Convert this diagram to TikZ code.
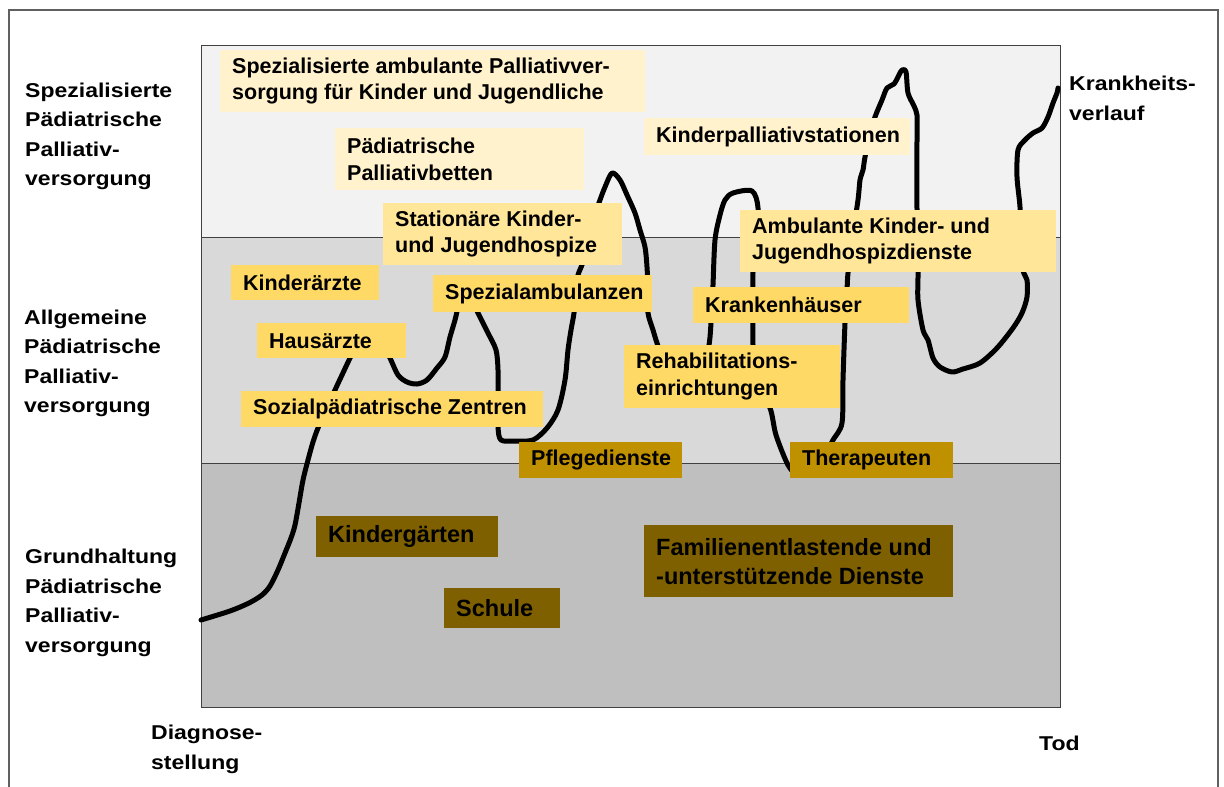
\documentclass[tikz,border=0pt]{standalone}
\usepackage{fontspec}
\setmainfont{Liberation Sans}
\newfontfamily\lblfont[FakeStretch=1.15]{Liberation Sans}
\definecolor{bandA}{HTML}{F2F2F2}
\definecolor{bandB}{HTML}{D9D9D9}
\definecolor{bandC}{HTML}{BFBFBF}
\definecolor{boxpale}{HTML}{FFF2CC}
\definecolor{boxmid}{HTML}{FFE699}
\definecolor{boxgold}{HTML}{FFD966}
\definecolor{boxdark}{HTML}{BF9000}
\definecolor{boxbrown}{HTML}{7F6000}
\definecolor{framegray}{HTML}{606060}
\definecolor{axisgray}{HTML}{404040}
\tikzset{
  boxshape/.style={rectangle, draw=none, inner sep=0pt},
  boxtxt/.style={inner sep=0pt, align=left, font=\bfseries\fontsize{21.5}{26.5}\selectfont},
  bigtxt/.style={inner sep=0pt, align=left, font=\bfseries\fontsize{23.5}{29}\selectfont},
  sidelbl/.style={inner sep=0pt, align=left, font=\lblfont\bfseries\fontsize{20}{29.5}\selectfont},
  course/.style={line width=5pt, line join=round, line cap=round, black},
}
\newcommand\mybox[8]{%
  \node[boxshape, fill=#6, minimum width=#4pt, minimum height=#5pt, anchor=north west] (#1) at (#2,#3) {};
  \node[#7, anchor=west] (#1t) at ([xshift=12pt]#1.west) {#8};
}
\begin{document}
\begin{tikzpicture}[x=1pt,y=-1pt]
\clip (0,0) rectangle (1224,787);
\fill[white] (0,0) rectangle (1224,787);
% outer frame
\draw[framegray, line width=1.5pt] (9,10) rectangle (1218,820);
% bands
\fill[bandA] (201,45) rectangle (1060,237);
\fill[bandB] (201,237) rectangle (1060,463);
\fill[bandC] (201,463) rectangle (1060,707);
\draw[axisgray, line width=1pt] (201,237) -- (1060,237);
\draw[axisgray, line width=1pt] (201,463) -- (1060,463);
\draw[axisgray, line width=1pt] (201,45) rectangle (1060,707);
% course of disease
\draw[course] plot[smooth, tension=0.5] coordinates {
(201,620) (230,611) (249,603) (262,595) (270,586) (278,570) (285,553) (291,538) (295,525) (299,503) (303,480) (308,460) (313,442) (318,428) (326,410) (335,390) (342,375) (350,358) (360,338) (370,328) (380,338) (390,358) (398,375) (407,382) (417,384) (427,380) (437,368) (445,357) (450,337) (455,320) (460,300) (466,290) (472,300) (478,313) (488,333) (496,350) (498,370) (498,400) (498,427) (501,440) (515,441) (533,440) (547,428) (558,410) (565,380) (568,350) (571,330) (574,313) (576,290) (578,275) (583,262) (590,235) (596,212) (600,200) (605,187) (612,173) (620,180) (627,195) (635,213) (640,230) (645,247) (647,267) (648,290) (648,313) (653,330) (657,343) (665,365) (678,385) (692,385) (703,368) (709,345) (711,323) (712,300) (713,285) (715,240) (720,215) (725,200) (733,193) (752,191) (758,208) (755,240) (753,272) (753,300) (753,345) (755,380) (770,408) (776,435) (788,465) (798,475) (812,472) (825,455) (833,440) (842,423) (843,380) (845,323) (847,290) (848,273) (852,240) (858,200) (860,180) (863,170) (865,157) (870,135) (875,117) (882,100) (887,88) (894,84) (899,75) (902,70) (906,72) (908,93) (914,106) (917,115) (917,133) (917,210) (918,272) (918,300) (923,330) (928,340) (933,358) (940,367) (952,372) (963,369) (980,363) (997,348) (1013,328) (1022,313) (1027,297) (1027,280) (1023,270) (1021,240) (1020,207) (1017,177) (1018,150) (1025,140) (1033,133) (1042,128) (1048,117) (1053,103) (1057,93) (1058,88)
};
% boxes
\mybox{sapv}{220}{50}{425}{62}{boxpale}{boxtxt}{Spezialisierte ambulante Palliativver-\\sorgung für Kinder und Jugendliche}
\mybox{ppb}{335}{128}{249}{62}{boxpale}{boxtxt}{Pädiatrische\\Palliativbetten}
\mybox{kps}{644}{118}{266}{37}{boxpale}{boxtxt}{Kinderpalliativstationen}
\mybox{skj}{383}{203}{239}{62}{boxmid}{boxtxt}{Stationäre Kinder-\\und Jugendhospize}
\mybox{akj}{740}{210}{316}{62}{boxmid}{boxtxt}{Ambulante Kinder- und\\Jugendhospizdienste}
\mybox{kia}{231}{265}{148}{35}{boxgold}{boxtxt}{Kinderärzte}
\mybox{hau}{257}{323}{149}{35}{boxgold}{boxtxt}{Hausärzte}
\mybox{spa}{433}{275}{219}{37}{boxgold}{boxtxt}{Spezialambulanzen}
\mybox{krh}{693}{287}{216}{36}{boxgold}{boxtxt}{Krankenhäuser}
\mybox{reh}{624}{345}{216}{63}{boxgold}{boxtxt}{Rehabilitations-\\einrichtungen}
\mybox{spz}{241}{391}{302}{36}{boxgold}{boxtxt}{Sozialpädiatrische Zentren}
\mybox{pfd}{519}{442}{163}{36}{boxdark}{boxtxt}{Pflegedienste}
\mybox{the}{790}{442}{163}{36}{boxdark}{boxtxt}{Therapeuten}
\mybox{kig}{316}{516}{182}{41}{boxbrown}{bigtxt}{Kindergärten}
\mybox{sch}{444}{588}{116}{40}{boxbrown}{bigtxt}{Schule}
\mybox{fam}{644}{525}{309}{72}{boxbrown}{bigtxt}{Familienentlastende und\\-unterstützende Dienste}
% side labels (base anchor = last line's baseline)
\node[sidelbl, anchor=base west] (lspez) at (25,185.5) {Spezialisierte\\Pädiatrische\\Palliativ-\\versorgung};
\node[sidelbl, anchor=base west] (lallg) at (24,412.5) {Allgemeine\\Pädiatrische\\Palliativ-\\versorgung};
\node[sidelbl, anchor=base west] (lgrund) at (25,652) {Grundhaltung\\Pädiatrische\\Palliativ-\\versorgung};
\node[sidelbl, anchor=base west] (ldiag) at (151,769) {Diagnose-\\stellung};
\node[sidelbl, anchor=base west] (ltod) at (1039,750) {Tod};
\node[sidelbl, anchor=base west] (lkv) at (1069,120) {Krankheits-\\verlauf};
\end{tikzpicture}
\end{document}
